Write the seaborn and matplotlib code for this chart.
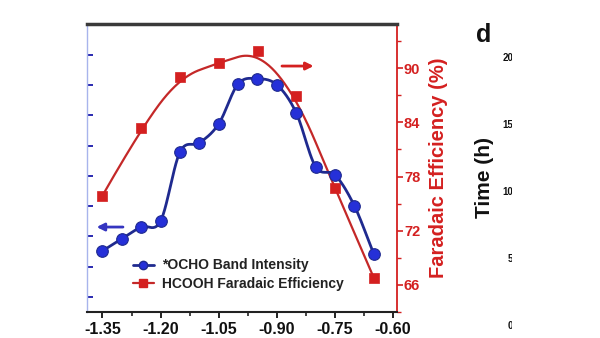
import numpy as np
import pandas as pd
import matplotlib
matplotlib.use("Agg")
import matplotlib.pyplot as plt
from matplotlib.lines import Line2D
from matplotlib.patches import Rectangle
from matplotlib.ticker import AutoMinorLocator
import seaborn as sns

# ---------------- data ----------------
potential_ocho = [-1.35, -1.30, -1.25, -1.20, -1.15, -1.10, -1.05, -1.00,
                  -0.95, -0.90, -0.85, -0.80, -0.75, -0.70, -0.65]
ocho_intensity = [1.52, 1.92, 2.31, 2.51, 4.79, 5.09, 5.72, 7.04,
                  7.21, 7.01, 6.08, 4.30, 4.03, 3.01, 1.42]
potential_fe = [-1.35, -1.25, -1.15, -1.05, -0.95, -0.85, -0.75, -0.65]
hcooh_fe = [75.9, 83.4, 89.0, 90.6, 91.9, 86.9, 76.7, 66.8]
x_ticks = [-1.35, -1.20, -1.05, -0.90, -0.75, -0.60]
x_tick_labels = ["-1.35", "-1.20", "-1.05", "-0.90", "-0.75", "-0.60"]
intensity_ticks = [0, 1, 2, 3, 4, 5, 6, 7, 8]
fe_ticks = [66, 72, 78, 84, 90]
fe_tick_labels = ["66", "72", "78", "84", "90"]
time_ticks = [0, 5, 10, 15, 20]
time_tick_labels = ["0", "5", "10", "15", "20"]
series_labels = ["*OCHO Band Intensity", "HCOOH Faradaic Efficiency"]

BLUE_LINE = "#1f2a8f"
BLUE_FACE = "#2530d8"
RED = "#d42020"
RED_LINE = "#c42828"


def catmull_rom(x, y, n=24):
    """Smooth drawing path through the given points (uniform Catmull-Rom)."""
    x = np.asarray(x, float)
    y = np.asarray(y, float)
    xp = np.concatenate([[2 * x[0] - x[1]], x, [2 * x[-1] - x[-2]]])
    yp = np.concatenate([[2 * y[0] - y[1]], y, [2 * y[-1] - y[-2]]])
    t = np.linspace(0, 1, n, endpoint=False)
    xs, ys = [], []
    for k in range(len(x) - 1):
        for arr, out in ((xp, xs), (yp, ys)):
            p0, p1, p2, p3 = arr[k], arr[k + 1], arr[k + 2], arr[k + 3]
            seg = 0.5 * (2 * p1 + (-p0 + p2) * t
                         + (2 * p0 - 5 * p1 + 4 * p2 - p3) * t ** 2
                         + (-p0 + 3 * p1 - 3 * p2 + p3) * t ** 3)
            out.extend(seg)
    xs.append(x[-1])
    ys.append(y[-1])
    return np.array(xs), np.array(ys)


def bspline(x, y, n=300, k=2):
    """Clamped B-spline using the data points as control points
    (the 'B-Spline' connection of plotting packages)."""
    P = np.column_stack([np.asarray(x, float), np.asarray(y, float)])
    m = len(P)
    knots = np.concatenate([np.zeros(k), np.arange(m - k + 1), np.full(k, m - k)]).astype(float)
    u = np.linspace(0, m - k, n)
    u[-1] -= 1e-9
    N = np.array([(knots[i] <= u) & (u < knots[i + 1]) for i in range(len(knots) - 1)], float)
    for p in range(1, k + 1):
        newN = []
        for i in range(len(knots) - p - 1):
            d1 = knots[i + p] - knots[i]
            d2 = knots[i + p + 1] - knots[i + 1]
            a = (u - knots[i]) / d1 * N[i] if d1 > 0 else 0 * u
            b = (knots[i + p + 1] - u) / d2 * N[i + 1] if d2 > 0 else 0 * u
            newN.append(a + b)
        N = np.array(newN)
    C = N.T @ P
    return C[:, 0], C[:, 1]


sns.set_theme(style="white")
plt.rcParams['font.family'] = ['Liberation Sans', 'DejaVu Sans']
plt.rcParams['font.weight'] = 'bold'

fig = plt.figure(figsize=(6, 3.38), dpi=100)
fig.patch.set_facecolor("white")
ax = fig.add_axes([87 / 600, 26 / 338, 310 / 600, 288 / 338])
ax2 = ax.twinx()

# ---- red series (right axis): B-spline curve + squares ----
bx, by = bspline(potential_fe, hcooh_fe)
df_fe_curve = pd.DataFrame({"potential": bx, "fe": by})
df_fe = pd.DataFrame({"potential": potential_fe, "fe": hcooh_fe})
sns.lineplot(data=df_fe_curve, x="potential", y="fe", sort=False, estimator=None,
             color=RED_LINE, lw=1.6, ax=ax2)
sns.scatterplot(data=df_fe, x="potential", y="fe", marker="s", s=60,
                color=RED, edgecolor=RED, linewidth=0.5, ax=ax2, zorder=4)

# ---- blue series (left axis): smooth line + balls ----
sx, sy = catmull_rom(potential_ocho, ocho_intensity)
df_smooth = pd.DataFrame({"potential": sx, "intensity": sy})
df_ocho = pd.DataFrame({"potential": potential_ocho, "intensity": ocho_intensity})
sns.lineplot(data=df_smooth, x="potential", y="intensity", sort=False,
             estimator=None, color=BLUE_LINE, lw=2.0, ax=ax)
sns.scatterplot(data=df_ocho, x="potential", y="intensity", marker="o", s=70,
                color=BLUE_FACE, edgecolor=BLUE_LINE, linewidth=0.8, ax=ax, zorder=4)

ax.set_zorder(ax2.get_zorder() + 1)
ax.patch.set_visible(False)

# ---- axes styling ----
ax.set_xlim(-1.39, -0.59)
ax.set_xticks(x_ticks)
ax.set_xticklabels(x_tick_labels)
ax.xaxis.set_minor_locator(AutoMinorLocator(2))
ax.set_ylim(-0.5, 9.02)
ax.set_yticks(intensity_ticks)
ax.set_xlabel("")
ax.set_ylabel("")
ax.tick_params(axis="x", which="major", bottom=True, direction="out", length=4,
               width=1.4, color="#222222", labelsize=11.5, labelcolor="#111111", pad=3)
ax.tick_params(axis="x", which="minor", bottom=True, direction="out", length=3,
               width=1.2, color="#222222")
ax.tick_params(axis="y", left=True, labelleft=False, direction="in", length=4,
               width=1.4, color="#2a2ab0")

ax.spines["top"].set_color("#3a3a3a")
ax.spines["top"].set_linewidth(2.5)
ax.spines["bottom"].set_color("#222222")
ax.spines["bottom"].set_linewidth(1.5)
ax.spines["left"].set_color("#a8b4ec")
ax.spines["left"].set_linewidth(1.0)
ax.spines["right"].set_visible(False)

ax2.set_ylim(63, 94.9)
ax2.set_yticks(fe_ticks)
ax2.set_yticklabels(fe_tick_labels)
ax2.yaxis.set_minor_locator(AutoMinorLocator(2))
ax2.set_xlabel("")
ax2.tick_params(axis="y", which="major", right=True, direction="out", length=4,
                width=1.2, color=RED, labelcolor=RED, labelsize=10.5, pad=1)
ax2.tick_params(axis="y", which="minor", right=True, direction="out", length=3,
                width=1.0, color=RED)
for s in ["top", "bottom", "left"]:
    ax2.spines[s].set_visible(False)
ax2.spines["right"].set_color(RED)
ax2.spines["right"].set_linewidth(1.3)
ax2.set_ylabel("Faradaic Efficiency (%)", color=RED, fontsize=14.5,
               fontweight="bold", labelpad=6)

# ---- direction arrows ----
ax.annotate("", xy=(0.022, 0.295), xytext=(0.125, 0.295), xycoords="axes fraction",
            arrowprops=dict(arrowstyle="-|>", color="#3535c0", lw=2, mutation_scale=11))
ax.annotate("", xy=(0.74, 0.854), xytext=(0.62, 0.854), xycoords="axes fraction",
            arrowprops=dict(arrowstyle="-|>", color=RED, lw=2, mutation_scale=11))

# ---- legend ----
handles = [
    Line2D([], [], color=BLUE_LINE, lw=2, marker="o", markersize=6,
           markerfacecolor=BLUE_FACE, markeredgecolor=BLUE_LINE),
    Line2D([], [], color=RED_LINE, lw=1.6, marker="s", markersize=6,
           markerfacecolor=RED, markeredgecolor=RED),
]
leg = ax.legend(handles, series_labels, loc="lower left", bbox_to_anchor=(0.125, 0.05),
                frameon=False, borderpad=0, handlelength=1.5, handletextpad=0.6,
                labelspacing=0.3, prop=dict(weight="bold", size=10))
for t in leg.get_texts():
    t.set_color("#222222")

# ---- neighbouring panel d (cropped in the reference) ----
ax_d = fig.add_axes([516 / 600, 13 / 338, 0.1, 268 / 338])
ax_d.set_ylim(0, 20)
ax_d.set_yticks(time_ticks)
ax_d.set_yticklabels(time_tick_labels)
ax_d.set_xticks([])
ax_d.tick_params(axis="y", left=True, length=0, labelsize=7, pad=2, labelcolor="#111111")
for s in ax_d.spines.values():
    s.set_visible(False)
ax_d.patch.set_visible(False)
fig.text(484 / 600, 1 - 35 / 338, "d", fontsize=18, fontweight="bold",
         ha="center", va="center", color="#111111")
fig.text(484 / 600, 1 - 178 / 338, "Time (h)", fontsize=15, fontweight="bold",
         rotation=90, ha="center", va="center", color="#111111")
fig.add_artist(Rectangle((512 / 600, 0), 1, 1, transform=fig.transFigure,
                         facecolor="white", edgecolor="none", zorder=100))

fig.savefig("out.png", dpi=100, facecolor="white")
